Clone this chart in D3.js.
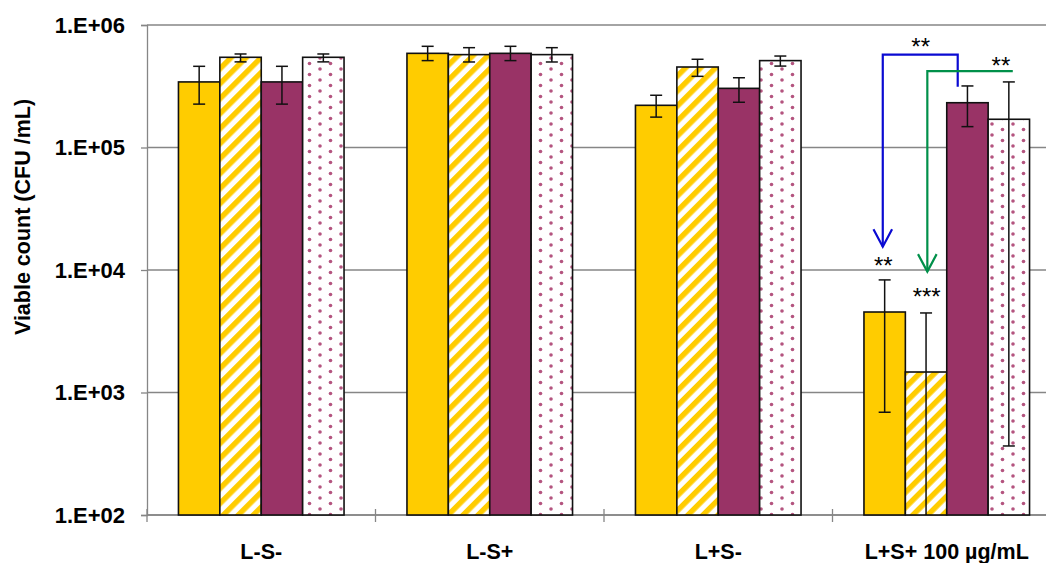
<!DOCTYPE html>
<html><head><meta charset="utf-8">
<script src="https://cdn.jsdelivr.net/npm/d3@7"></script>
<style>body{margin:0;background:#fff}svg{display:block}</style>
</head><body>
<svg id="chart" width="1046" height="563"></svg>
<script>
// ---------- data ----------
const categories = ["L-S-", "L-S+", "L+S-", "L+S+ 100 µg/mL"];
const seriesNames = ["yellow", "yellowHatch", "purple", "purpleDots"];

const valuesYellow      = [3.43e5, 5.87e5, 2.21e5, 4.54e3];
const valuesYellowHatch = [5.45e5, 5.73e5, 4.54e5, 1.47e3];
const valuesPurple      = [3.43e5, 5.87e5, 3.04e5, 2.32e5];
const valuesPurpleDots  = [5.45e5, 5.73e5, 5.12e5, 1.70e5];

const upperYellow      = [4.60e5, 6.70e5, 2.67e5, 8.30e3];
const upperYellowHatch = [5.80e5, 6.53e5, 5.25e5, 4.46e3];
const upperPurple      = [4.60e5, 6.70e5, 3.71e5, 3.18e5];
const upperPurpleDots  = [5.80e5, 6.53e5, 5.58e5, 3.43e5];

const lowerYellow      = [2.26e5, 5.12e5, 1.77e5, 6.9e2];
const lowerYellowHatch = [5.00e5, 4.99e5, 3.81e5, null];   // null: runs below the axis
const lowerPurple      = [2.26e5, 5.12e5, 2.34e5, 1.48e5];
const lowerPurpleDots  = [5.00e5, 4.99e5, 4.62e5, 3.66e2];

const yTicks = [1e2, 1e3, 1e4, 1e5, 1e6];
const yTickLabels = ["1.E+02", "1.E+03", "1.E+04", "1.E+05", "1.E+06"];
const yTitle = "Viable count (CFU /mL)";

// annotation brackets: x in category units, y in data values
const bracketBlue  = [[3.548, 3.13e5], [3.548, 5.73e5], [3.220, 5.73e5], [3.220, 1.55e4]];
const bracketGreen = [[3.789, 4.2e5], [3.415, 4.2e5], [3.415, 9.7e3]];
const starTexts  = ["**", "**", "**", "***"];
const starX      = [3.386, 3.737, 3.222, 3.412];
const starY      = [5.74e5, 3.99e5, 9.29e3, 5.19e3];

// ---------- build ----------
const seriesVals = [valuesYellow, valuesYellowHatch, valuesPurple, valuesPurpleDots];
const seriesHi = [upperYellow, upperYellowHatch, upperPurple, upperPurpleDots];
const seriesLo = [lowerYellow, lowerYellowHatch, lowerPurple, lowerPurpleDots];
const rows = [];
categories.forEach((c, ci) => seriesNames.forEach((s, si) => {
  rows.push({cat: c, ser: s, v: seriesVals[si][ci], hi: seriesHi[si][ci], lo: seriesLo[si][ci]});
}));

const L = 147, R = 1061, T = 25, B = 515;
const svg = d3.select("#chart");
const FONT = "'Liberation Sans', Arial, sans-serif";

const x = d3.scaleBand().domain(categories).range([L, R]);
const xs = d3.scaleBand().domain(seriesNames).range([0, x.bandwidth()]).paddingOuter(0.76).paddingInner(0);
const xPos = d3.scaleLinear().domain([0, categories.length]).range([L, R]);
const y = d3.scaleLog().domain([1e2, 1e6]).range([B, T]).clamp(true);

// patterns
const defs = svg.append("defs");
const hatch = defs.append("pattern").attr("id", "hatch").attr("patternUnits", "userSpaceOnUse")
  .attr("width", 10.6).attr("height", 10.6).attr("patternTransform", "rotate(45)");
hatch.append("rect").attr("width", 10.6).attr("height", 10.6).attr("fill", "#fff");
hatch.append("rect").attr("width", 5.4).attr("height", 10.6).attr("fill", "#FFCC00");
const dots = defs.append("pattern").attr("id", "dots").attr("patternUnits", "userSpaceOnUse")
  .attr("width", 21).attr("height", 11);
dots.append("rect").attr("width", 21).attr("height", 11).attr("fill", "#fff");
dots.append("circle").attr("cx", 5).attr("cy", 3).attr("r", 1.8).attr("fill", "#b4547f");
dots.append("circle").attr("cx", 15.5).attr("cy", 8.5).attr("r", 1.8).attr("fill", "#b4547f");

const fills = {yellow: "#FFCC00", yellowHatch: "url(#hatch)", purple: "#993366", purpleDots: "url(#dots)"};

// gridlines
svg.append("g").selectAll("line").data(yTicks).join("line")
  .attr("x1", L).attr("x2", R).attr("y1", d => y(d)).attr("y2", d => y(d))
  .attr("stroke", "#868686").attr("stroke-width", 1.3);

// y axis
const yAxis = svg.append("g").attr("transform", `translate(${L},0)`)
  .call(d3.axisLeft(y).tickValues(yTicks).tickFormat((d, i) => yTickLabels[i]).tickSize(6).tickPadding(16));
yAxis.select(".domain").attr("stroke", "#868686").attr("stroke-width", 1.3);
yAxis.selectAll(".tick line").attr("stroke", "#868686").attr("stroke-width", 1.3);
yAxis.selectAll(".tick text").attr("font-family", FONT).attr("font-size", 22).attr("font-weight", "bold").attr("fill", "#000");

// x axis
const xAxis = svg.append("g").attr("transform", `translate(0,${B})`)
  .call(d3.axisBottom(x).tickSize(0).tickPadding(29));
xAxis.select(".domain").remove();
xAxis.selectAll(".tick text").attr("font-family", FONT).attr("font-size", 21.5).attr("font-weight", "bold").attr("fill", "#000");
svg.append("line").attr("x1", L).attr("x2", R).attr("y1", B).attr("y2", B).attr("stroke", "#868686").attr("stroke-width", 1.3);
svg.append("g").selectAll("line").data(d3.range(categories.length + 1)).join("line")
  .attr("x1", d => xPos(d)).attr("x2", d => xPos(d)).attr("y1", B - 6).attr("y2", B + 7)
  .attr("stroke", "#868686").attr("stroke-width", 1.3);

// bars
svg.append("g").selectAll("rect").data(rows).join("rect")
  .attr("x", d => x(d.cat) + xs(d.ser)).attr("width", xs.bandwidth())
  .attr("y", d => y(d.v)).attr("height", d => B - y(d.v))
  .attr("fill", d => fills[d.ser]).attr("stroke", "#111").attr("stroke-width", 1.6);

// error bars
const eb = svg.append("g").attr("stroke", "#111").attr("stroke-width", 1.5);
const cx = d => x(d.cat) + xs(d.ser) + xs.bandwidth() / 2;
eb.selectAll("line.v").data(rows).join("line").attr("class", "v")
  .attr("x1", cx).attr("x2", cx).attr("y1", d => y(d.hi)).attr("y2", d => d.lo == null ? B : y(d.lo));
eb.selectAll("line.h").data(rows).join("line").attr("class", "h")
  .attr("x1", d => cx(d) - 6).attr("x2", d => cx(d) + 6).attr("y1", d => y(d.hi)).attr("y2", d => y(d.hi));
eb.selectAll("line.l").data(rows.filter(d => d.lo != null)).join("line").attr("class", "l")
  .attr("x1", d => cx(d) - 6).attr("x2", d => cx(d) + 6).attr("y1", d => y(d.lo)).attr("y2", d => y(d.lo));

// brackets with arrows
function bracket(pts, color) {
  const line = d3.line().x(p => xPos(p[0])).y(p => y(p[1]));
  svg.append("path").attr("d", line(pts)).attr("fill", "none").attr("stroke", color).attr("stroke-width", 2.2);
  const tip = pts[pts.length - 1];
  const tx = xPos(tip[0]), ty = y(tip[1]);
  svg.append("path").attr("d", `M${tx - 9.3},${ty - 17.5}L${tx},${ty}L${tx + 9.3},${ty - 17.5}`)
    .attr("fill", "none").attr("stroke", color).attr("stroke-width", 2.2);
}
bracket(bracketBlue, "#0a0ad2");
bracket(bracketGreen, "#00904a");

// stars
svg.append("g").selectAll("text").data(starTexts).join("text")
  .attr("x", (d, i) => xPos(starX[i])).attr("y", (d, i) => y(starY[i]))
  .attr("text-anchor", "middle").attr("font-family", FONT).attr("font-size", 24).attr("fill", "#000")
  .text(d => d);

// y title
svg.append("text").attr("transform", "translate(30,217) rotate(-90)")
  .attr("text-anchor", "middle").attr("font-family", FONT).attr("font-size", 21.5).attr("font-weight", "bold")
  .text(yTitle);
</script>
</body></html>
